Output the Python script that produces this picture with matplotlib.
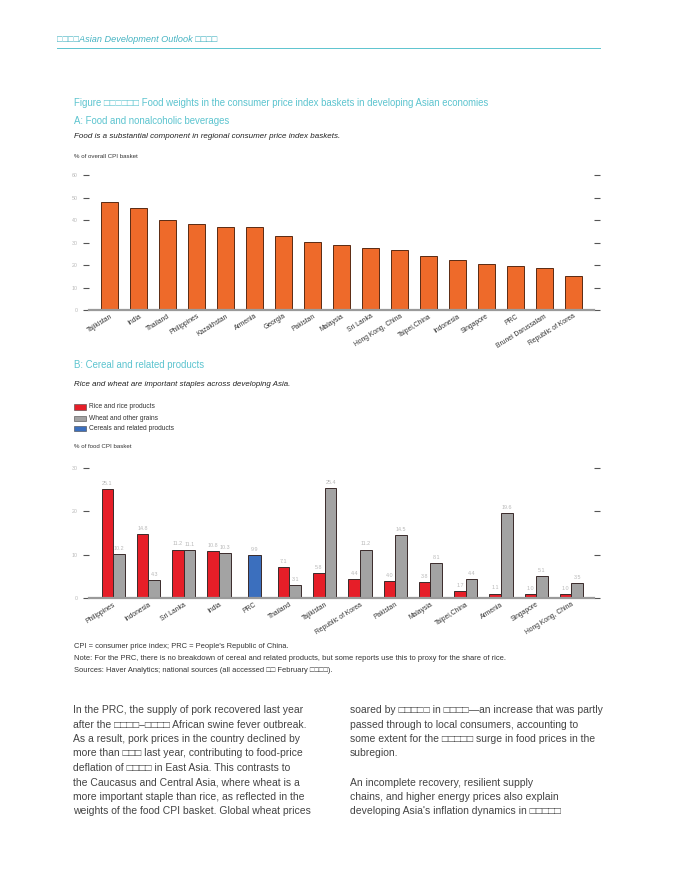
import matplotlib
matplotlib.use("Agg")
import matplotlib.pyplot as plt
from matplotlib.patches import Rectangle

plt.rcParams["font.family"] = ["Liberation Sans", "DejaVu Sans"]

W, H = 674, 874

# --- Panel A data: food weight in overall CPI basket (%) ---
food_countries = [
    "Tajikistan", "India", "Thailand", "Philippines", "Kazakhstan", "Armenia",
    "Georgia", "Pakistan", "Malaysia", "Sri Lanka", "Hong Kong, China",
    "Taipei,China", "Indonesia", "Singapore", "PRC", "Brunei Darussalam",
    "Republic of Korea",
]
food_weights = [48.1, 45.5, 40.1, 38.2, 36.9, 36.9, 32.7, 30.2, 29.1, 27.6,
                26.8, 24.0, 22.1, 20.6, 19.4, 18.5, 15.1]
food_ticks = [0, 10, 20, 30, 40, 50, 60]

# --- Panel B data: share of food CPI basket (%) ---
cereal_countries = [
    "Philippines", "Indonesia", "Sri Lanka", "India", "PRC", "Thailand",
    "Tajikistan", "Republic of Korea", "Pakistan", "Malaysia", "Taipei,China",
    "Armenia", "Singapore", "Hong Kong, China",
]
rice = [25.1, 14.8, 11.2, 10.8, None, 7.1, 5.8, 4.4, 4.0, 3.8, 1.7, 1.1, 1.0, 1.0]
wheat = [10.2, 4.3, 11.1, 10.3, None, 3.1, 25.4, 11.2, 14.5, 8.1, 4.4, 19.6, 5.1, 3.5]
cereals = [None, None, None, None, 9.9, None, None, None, None, None, None, None, None, None]
cereal_ticks = [0, 10, 20, 30]

TEAL = "#45b3c2"
TEAL_LIGHT = "#5cc4cf"
ORANGE = "#ee6a2a"
RED = "#e61e28"
GREY = "#a3a3a3"
BLUE = "#3b6fbe"
TICK_GREY = "#b8b8b8"


def fx(x):
    return x / W


def fy(y):
    return 1 - y / H


def add_axes_px(left, top, right, bottom):
    return fig.add_axes([fx(left), fy(bottom), (right - left) / W, (bottom - top) / H])


def style_axes(ax, ticks):
    for side in ["top", "left", "right"]:
        ax.spines[side].set_visible(False)
    ax.spines["bottom"].set_color("#9a9a9a")
    ax.spines["bottom"].set_linewidth(1.6)
    ax.set_yticks(ticks)
    ax.set_yticklabels([str(t) for t in ticks])
    ax.tick_params(axis="y", left=True, right=True, length=4, width=0.8,
                   color="#555555", labelsize=3.8, labelcolor=TICK_GREY, pad=4)
    ax.tick_params(axis="x", length=0, labelsize=4.9, labelcolor="#333333", pad=2)
    ax.set_ylim(ticks[0], ticks[-1])
    ax.patch.set_visible(False)


fig = plt.figure(figsize=(W / 100, H / 100), dpi=100)

# header
fig.text(fx(57), fy(40), "□□□□Asian Development Outlook □□□□", color=TEAL,
         fontsize=6.6, style="italic", va="center", ha="left")
fig.add_artist(plt.Line2D([fx(57), fx(600)], [fy(48), fy(48)], color=TEAL_LIGHT,
                          linewidth=0.7))

# figure title
fig.text(fx(74), fy(103), "Figure □□□□□□ Food weights in the consumer price index baskets in developing Asian economies",
         color=TEAL_LIGHT, fontsize=6.9, va="center")
fig.text(fx(74), fy(121), "A: Food and nonalcoholic beverages", color=TEAL_LIGHT,
         fontsize=6.9, va="center")
fig.text(fx(74), fy(136), "Food is a substantial component in regional consumer price index baskets.",
         color="#222222", fontsize=5.8, style="italic", va="center")
fig.text(fx(74), fy(157), "% of overall CPI basket", color="#333333", fontsize=4.4, va="center")

# --- panel A ---
axA = add_axes_px(89, 175, 594, 310)
xa = list(range(len(food_countries)))
axA.bar(xa, food_weights, width=0.58, color=ORANGE, edgecolor="#5a2a12", linewidth=0.7,
        zorder=2)
axA.set_xlim(-0.72, 16.71)
style_axes(axA, food_ticks)
axA.set_xticks(xa)
axA.set_xticklabels(food_countries, rotation=32, ha="right", rotation_mode="anchor")

# panel B header
fig.text(fx(74), fy(365), "B: Cereal and related products", color=TEAL_LIGHT,
         fontsize=6.9, va="center")
fig.text(fx(74), fy(385), "Rice and wheat are important staples across developing Asia.",
         color="#222222", fontsize=5.7, style="italic", va="center")

legend_items = [("Rice and rice products", RED), ("Wheat and other grains", GREY),
                ("Cereals and related products", BLUE)]
for k, (label, colour) in enumerate(legend_items):
    y = 407 + k * 11
    fig.add_artist(Rectangle((fx(74), fy(y + 2.5)), 12 / W, 5 / H, facecolor=colour,
                             edgecolor="#444444", linewidth=0.4))
    fig.text(fx(89), fy(y), label, color="#333333", fontsize=4.8, va="center")

fig.text(fx(74), fy(447), "% of food CPI basket", color="#333333", fontsize=4.4, va="center")

# --- panel B ---
axB = add_axes_px(89, 467.7, 594, 598.3)
bw = 0.33
xb = list(range(len(cereal_countries)))
for i in xb:
    pairs = []
    if rice[i] is not None:
        pairs.append((i - bw / 2, rice[i], RED))
    if wheat[i] is not None:
        pairs.append((i + bw / 2, wheat[i], GREY))
    if cereals[i] is not None:
        pairs.append((i, cereals[i], BLUE))
    for x, v, colour in pairs:
        w = bw * 1.1 if colour == BLUE else bw
        axB.bar(x, v, width=w, color=colour, edgecolor="#3a2a2a", linewidth=0.7, zorder=2)
        axB.text(x, v + 0.7, f"{v:.1f}", ha="center", va="bottom", fontsize=3.9,
                 color=TICK_GREY)
axB.set_xlim(-0.687, 13.64)
style_axes(axB, cereal_ticks)
axB.set_xticks(xb)
axB.set_xticklabels(cereal_countries, rotation=32, ha="right", rotation_mode="anchor")

# notes
notes = [
    "CPI = consumer price index; PRC = People's Republic of China.",
    "Note: For the PRC, there is no breakdown of cereal and related products, but some reports use this to proxy for the share of rice.",
    "Sources: Haver Analytics; national sources (all accessed □□ February □□□□).",
]
for k, line in enumerate(notes):
    fig.text(fx(74), fy(646 + k * 12.5), line, color="#333333", fontsize=5.4, va="center")

# body text
left_col = [
    "In the PRC, the supply of pork recovered last year",
    "after the □□□□–□□□□ African swine fever outbreak.",
    "As a result, pork prices in the country declined by",
    "more than □□□ last year, contributing to food-price",
    "deflation of □□□□ in East Asia. This contrasts to",
    "the Caucasus and Central Asia, where wheat is a",
    "more important staple than rice, as reflected in the",
    "weights of the food CPI basket. Global wheat prices",
]
right_col = [
    "soared by □□□□□ in □□□□—an increase that was partly",
    "passed through to local consumers, accounting to",
    "some extent for the □□□□□ surge in food prices in the",
    "subregion.",
    "",
    "An incomplete recovery, resilient supply",
    "chains, and higher energy prices also explain",
    "developing Asia's inflation dynamics in □□□□□",
]
for k, line in enumerate(left_col):
    fig.text(fx(73), fy(710 + k * 14.5), line, color="#444444", fontsize=7.5, va="center")
for k, line in enumerate(right_col):
    fig.text(fx(350), fy(710 + k * 14.5), line, color="#444444", fontsize=7.5, va="center")

fig.savefig("out.png", dpi=100)
